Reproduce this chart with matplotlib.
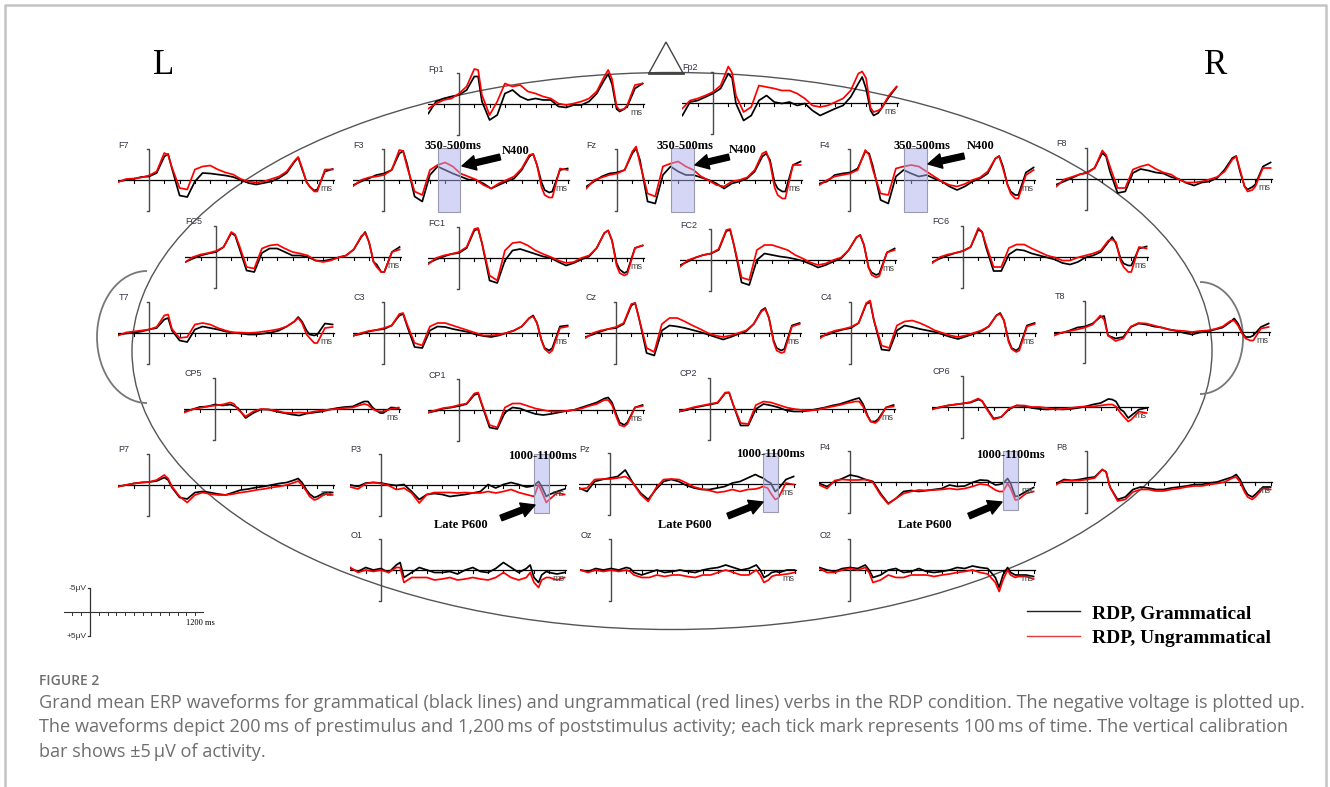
import matplotlib
matplotlib.use("Agg")
import matplotlib.pyplot as plt
from matplotlib.patches import Ellipse, Arc, Polygon, Rectangle
from matplotlib.lines import Line2D

# sample times (ms) shared by every waveform
TIMES = [-200, -150, -100, -50, 0, 50, 100, 125, 150, 200, 250, 300, 350, 400, 450, 500,
         550, 600, 650, 700, 750, 800, 850, 900, 950, 975, 1000, 1030, 1050, 1080, 1100, 1150, 1200]

# amplitudes in microvolts (negative plotted up); _G = grammatical, _U = ungrammatical
Fp1_G = [1.9, -0.5, -1.1, -1.5, -1.8, -2.8, -5.5, -5.5, -0.5, 3.2, 2.2, -2.1, -2.8, -1.5, -0.8, -1.1, -0.8,
         -0.8, 0.5, 0.7, 0.2, 0.2, -0.5, -2.1, -4.8, -6.0, -4.0, 1.0, 1.5, 1.0, 0.5, -3.1, -4.1]
Fp1_U = [0.9, -0.1, -0.8, -1.1, -2.1, -3.5, -7.0, -6.8, -1.8, 2.2, -0.5, -4.1, -3.5, -3.8, -2.5, -2.1, -1.5,
         -1.1, -0.1, 0.2, -0.1, -0.5, -1.1, -2.5, -5.5, -6.8, -5.0, 0.5, 1.2, 1.0, 0.2, -3.8, -4.1]
Fp2_G = [2.5, -0.2, -0.5, -1.2, -1.9, -2.9, -5.9, -5.0, 0.1, 3.5, 2.5, -0.5, -1.5, -0.2, 0.1, -0.2, 0.5,
         0.1, 1.5, 2.5, 1.8, 1.1, 0.5, -1.2, -3.9, -5.2, -2.9, 1.5, 2.5, 2.0, 1.1, -1.2, -3.2]
Fp2_U = [1.1, -0.5, -0.9, -1.5, -2.2, -3.5, -7.3, -6.0, -1.5, 1.8, 0.8, -3.5, -3.2, -2.9, -2.5, -2.5, -1.9,
         -0.9, 0.5, 0.8, 0.5, -0.2, -0.9, -2.5, -5.9, -6.3, -5.0, 1.0, 1.8, 1.5, 1.1, -1.5, -3.3]
F7_G = [0.3, 0.0, -0.2, -0.6, -0.7, -1.4, -4.7, -5.2, -2.3, 3.1, 3.4, 0.3, -1.4, -1.3, -1.1, -0.9, -0.6,
        0.0, 0.6, 0.9, 0.6, 0.3, -0.4, -1.4, -3.6, -4.5, -2.2, 0.4, 1.3, 2.1, 1.9, -1.7, -2.2]
F7_U = [0.4, -0.2, -0.3, -0.5, -0.9, -1.7, -5.4, -5.0, -2.5, 1.6, 1.9, -2.1, -2.7, -2.9, -2.1, -1.5, -1.1,
        -0.2, 0.3, 0.5, 0.3, -0.2, -0.7, -1.7, -3.8, -4.6, -2.5, 0.5, 1.3, 2.3, 2.3, -2.1, -2.1]
F3_G = [1.0, 0.3, -0.3, -1.0, -1.3, -2.0, -5.3, -5.8, -3.3, 3.3, 4.3, -1.0, -2.7, -2.0, -1.3, -0.7, -0.1,
        0.0, 0.7, 1.7, 1.0, 0.3, -0.3, -2.0, -4.7, -5.2, -3.0, 0.5, 2.0, 2.5, 2.3, -2.0, -2.3]
F3_U = [1.2, 0.0, -0.5, -0.7, -1.0, -2.0, -6.0, -5.8, -2.7, 2.3, 3.0, -2.0, -3.0, -3.5, -2.7, -1.3, -0.7,
        -0.1, 1.0, 1.7, 0.7, 0.0, -0.7, -2.3, -5.0, -5.2, -3.0, 1.5, 3.0, 3.5, 3.5, -2.3, -2.0]
Fz_G = [1.3, 0.3, -0.7, -1.3, -1.5, -2.0, -5.3, -6.3, -4.0, 4.3, 4.7, -1.0, -2.7, -1.7, -1.0, -1.0, -0.5,
        0.0, 0.7, 1.7, 0.7, 0.3, -0.3, -1.7, -4.7, -5.3, -4.0, 0.5, 1.7, 2.3, 2.3, -3.0, -3.7]
Fz_U = [1.7, 0.0, -0.5, -1.0, -1.3, -2.0, -5.7, -6.7, -3.3, 2.7, 3.3, -2.7, -3.3, -3.7, -2.7, -2.0, -0.7,
        0.1, 1.0, 1.3, 0.3, 0.0, -0.5, -2.0, -5.3, -5.7, -3.5, 1.5, 3.0, 3.7, 3.7, -3.0, -3.0]
F4_G = [0.7, 0.3, -1.0, -1.3, -1.5, -2.3, -5.7, -5.3, -2.7, 4.0, 4.7, -0.7, -2.0, -1.3, -0.7, -1.0, -0.3,
        0.3, 1.3, 2.0, 1.3, 0.3, -0.3, -1.3, -4.3, -4.8, -2.7, 1.0, 2.3, 3.0, 3.0, -1.5, -2.5]
F4_U = [1.0, 0.0, -0.7, -1.0, -1.3, -2.0, -6.0, -5.0, -2.0, 2.7, 3.0, -2.3, -2.7, -3.0, -2.7, -1.7, -0.7,
        0.3, 1.0, 1.3, 0.8, 0.0, -0.5, -1.7, -4.3, -4.7, -2.3, 1.0, 2.7, 3.7, 3.7, -1.0, -2.0]
F8_G = [1.1, 0.5, -0.2, -0.9, -1.3, -2.2, -5.2, -4.5, -1.5, 2.8, 2.5, -1.2, -2.0, -1.7, -1.3, -1.1, -0.4,
        0.0, 0.8, 1.3, 0.7, 0.5, -0.2, -1.9, -4.2, -4.6, -1.5, 1.5, 2.1, 1.6, 1.1, -2.5, -3.3]
F8_U = [1.5, 0.1, -0.4, -0.9, -1.2, -2.2, -5.7, -4.8, -2.5, 1.8, 1.8, -1.9, -2.5, -2.9, -2.0, -1.3, -0.9,
        0.1, 0.7, 0.7, 0.5, 0.1, -0.4, -1.5, -3.9, -4.5, -1.9, 1.5, 2.5, 2.2, 1.5, -2.2, -2.2]
FC5_G = [1.0, 0.3, -0.3, -0.7, -1.0, -2.0, -4.8, -4.3, -2.0, 2.7, 3.0, -0.8, -1.7, -1.7, -1.0, -0.3, -0.3,
         0.0, 0.7, 0.8, 0.5, 0.1, -0.3, -1.5, -4.0, -5.0, -3.0, 1.0, 1.5, 3.0, 3.0, -1.0, -2.0]
FC5_U = [1.0, 0.0, -0.5, -0.8, -1.2, -2.0, -5.0, -4.5, -2.5, 2.0, 2.3, -1.7, -2.3, -2.5, -1.7, -1.0, -0.7,
         -0.3, 0.7, 1.0, 0.7, 0.1, -0.3, -1.5, -4.2, -4.8, -3.0, 1.0, 2.0, 3.0, 3.0, -1.0, -1.5]
FC1_G = [1.0, 0.3, -0.3, -0.8, -1.0, -2.0, -5.5, -5.8, -3.0, 4.5, 5.0, 0.5, -1.5, -1.8, -1.3, -0.8, -0.3,
         0.0, 0.8, 1.5, 1.0, 0.3, -0.3, -2.0, -5.0, -5.5, -3.5, 1.0, 2.3, 3.0, 2.7, -2.0, -2.5]
FC1_U = [1.2, 0.0, -0.5, -0.8, -1.2, -2.2, -5.8, -6.0, -3.0, 3.5, 4.5, -1.5, -3.0, -3.2, -2.5, -1.5, -0.8,
         -0.2, 0.5, 1.0, 0.8, 0.0, -0.5, -2.0, -5.0, -5.5, -3.5, 1.5, 3.0, 3.5, 3.2, -2.0, -2.5]
FC2_G = [1.0, 0.3, -0.5, -1.0, -1.3, -2.0, -5.8, -6.0, -3.0, 4.5, 5.0, 0.0, -1.3, -1.0, -0.7, -0.5, -0.2,
         0.2, 0.8, 1.5, 1.0, 0.3, -0.3, -2.0, -4.5, -5.0, -3.0, 1.5, 2.5, 3.0, 2.7, -1.5, -2.3]
FC2_U = [1.3, 0.0, -0.5, -1.0, -1.3, -2.2, -6.0, -6.2, -3.0, 3.5, 4.0, -2.0, -3.0, -3.0, -2.5, -2.0, -1.0,
         -0.3, 0.5, 1.0, 0.7, 0.0, -0.5, -2.0, -4.5, -5.0, -3.0, 1.5, 3.0, 3.5, 3.2, -1.5, -2.0]
FC6_G = [1.0, 0.3, -0.3, -0.8, -1.2, -2.0, -5.5, -5.0, -2.0, 2.8, 2.8, -0.5, -1.5, -1.3, -0.7, -0.3, 0.1,
         0.5, 1.2, 1.5, 1.0, 0.1, -0.3, -1.0, -3.0, -4.0, -2.7, 0.3, 1.3, 1.7, 1.7, -1.7, -2.1]
FC6_U = [1.2, 0.0, -0.5, -0.8, -1.2, -2.0, -5.8, -5.0, -2.5, 2.0, 2.0, -1.8, -2.5, -2.5, -1.7, -1.0, -0.3,
         0.1, 0.7, 0.7, 0.1, -0.3, -0.7, -1.3, -3.3, -3.5, -3.0, 0.8, 2.0, 3.0, 3.0, -2.0, -1.7]
T7_G = [0.3, 0.1, -0.1, -0.3, -0.7, -1.0, -2.7, -3.0, -0.5, 1.5, 1.8, -0.7, -1.3, -1.0, -0.7, -0.3, -0.1,
        0.1, 0.3, 0.3, 0.1, -0.1, -0.5, -1.3, -2.3, -3.2, -2.3, -0.5, 0.3, 0.5, 0.3, -1.9, -1.7]
T7_U = [0.5, -0.1, -0.3, -0.5, -0.7, -1.2, -3.5, -3.7, -0.8, 1.0, 0.8, -1.7, -2.0, -1.7, -1.0, -0.5, -0.1,
        -0.1, 0.0, -0.1, -0.3, -0.5, -0.8, -1.3, -2.3, -3.0, -2.0, 0.3, 1.0, 2.0, 2.0, -1.0, -1.2]
C3_G = [0.5, 0.2, -0.3, -0.6, -0.8, -1.5, -3.5, -3.8, -1.5, 2.8, 3.0, -0.5, -1.3, -1.2, -0.8, -0.5, -0.2,
        0.3, 0.6, 0.8, 0.5, 0.0, -0.5, -1.3, -3.0, -3.5, -2.0, 1.5, 3.0, 3.5, 3.0, -1.3, -1.5]
C3_U = [0.6, 0.0, -0.4, -0.6, -1.0, -1.5, -3.8, -4.0, -1.8, 2.0, 2.5, -1.3, -2.0, -2.0, -1.5, -1.0, -0.5,
        0.0, 0.5, 0.5, 0.3, 0.0, -0.5, -1.3, -3.0, -3.3, -2.0, 1.5, 3.2, 4.0, 3.5, -1.0, -1.3]
Cz_G = [0.8, 0.3, -0.3, -0.8, -1.0, -1.8, -5.5, -6.0, -3.0, 4.0, 4.5, -0.5, -1.5, -1.3, -1.0, -0.6, -0.2,
        0.3, 0.8, 1.3, 0.8, 0.2, -0.3, -1.8, -4.5, -5.0, -3.0, 1.5, 3.0, 3.5, 3.2, -1.5, -2.0]
Cz_U = [1.0, 0.0, -0.5, -0.8, -1.2, -2.0, -5.8, -6.0, -3.0, 3.0, 3.8, -1.8, -3.0, -3.0, -2.3, -1.5, -0.8,
        0.0, 0.5, 0.8, 0.5, 0.0, -0.5, -1.8, -4.3, -4.8, -3.0, 1.8, 3.5, 4.0, 3.8, -1.3, -1.8]
C4_G = [0.7, 0.3, -0.3, -0.7, -1.0, -2.0, -5.8, -6.2, -2.5, 3.3, 3.5, -0.5, -1.5, -1.2, -0.8, -0.5, -0.2,
        0.3, 0.8, 1.2, 0.7, 0.2, -0.3, -1.3, -3.5, -4.0, -2.5, 1.5, 3.0, 3.5, 3.0, -1.5, -2.0]
C4_U = [1.0, 0.0, -0.5, -0.8, -1.2, -2.0, -6.0, -6.5, -2.5, 2.5, 3.0, -1.5, -2.3, -2.5, -2.0, -1.3, -0.5,
        0.0, 0.5, 0.8, 0.5, 0.0, -0.5, -1.3, -3.5, -3.8, -2.5, 1.8, 3.2, 3.8, 3.5, -1.3, -1.8]
T8_G = [0.3, 0.2, -0.3, -0.9, -1.1, -1.7, -3.0, -3.2, 0.7, 1.3, 1.0, -1.0, -1.7, -1.5, -1.1, -0.9, -0.5,
        -0.2, 0.2, 0.5, 0.1, -0.1, -0.5, -0.9, -2.0, -2.7, -1.7, 0.3, 1.0, 1.0, 0.7, -1.0, -1.7]
T8_U = [0.7, 0.1, -0.2, -0.5, -0.9, -1.5, -3.3, -2.5, 0.7, 1.8, 1.3, -1.1, -1.8, -1.7, -1.3, -0.9, -0.5,
        -0.3, -0.2, 0.0, -0.2, -0.3, -0.6, -1.1, -2.2, -2.3, -1.3, 0.5, 1.3, 1.7, 1.7, -0.7, -1.0]
CP5_G = [0.5, 0.1, -0.4, -0.5, -0.9, -0.7, -0.9, -0.6, -0.2, 1.8, 0.8, 0.1, 0.1, 0.5, 0.8, 1.1, 1.3,
         0.9, 0.7, 0.5, 0.1, -0.2, -0.4, -0.5, -1.2, -1.5, -1.5, -0.3, 0.2, 0.8, 0.8, -0.3, -0.2]
CP5_U = [0.7, 0.1, -0.2, -0.5, -0.7, -0.9, -1.3, -1.0, 0.1, 1.5, 0.5, 0.0, 0.1, 0.3, 0.7, 0.8, 0.7,
         0.8, 0.5, 0.3, 0.1, 0.0, -0.2, -0.3, -0.8, -1.0, -0.8, 0.0, 0.3, 0.5, 0.5, 0.0, -0.3]
CP1_G = [0.5, 0.2, -0.3, -0.5, -0.8, -1.2, -3.0, -3.3, -1.0, 3.5, 3.8, 0.5, -0.5, -0.3, 0.3, 0.8, 1.0,
         0.8, 0.5, 0.2, 0.0, -0.5, -1.0, -1.5, -2.3, -2.5, -1.5, 1.0, 2.5, 3.0, 2.5, -0.5, -1.0]
CP1_U = [0.5, 0.0, -0.4, -0.6, -1.0, -1.3, -3.3, -3.5, -1.2, 3.0, 3.5, -0.5, -1.3, -1.3, -0.8, -0.3, 0.0,
         0.3, 0.3, 0.2, 0.0, -0.3, -0.8, -1.2, -2.0, -2.0, -1.0, 1.5, 3.0, 3.3, 2.8, -0.5, -0.8]
CP2_G = [0.5, 0.2, -0.3, -0.6, -0.9, -1.2, -3.2, -3.3, -1.0, 3.3, 3.3, 0.0, -1.0, -0.7, -0.3, 0.3, 0.5,
         0.5, 0.3, 0.0, -0.3, -0.7, -1.0, -1.5, -2.0, -2.2, -1.0, 1.3, 2.5, 2.5, 2.0, -0.3, -0.8]
CP2_U = [0.5, 0.0, -0.4, -0.7, -1.0, -1.3, -3.3, -3.3, -1.0, 2.8, 3.0, -0.8, -1.5, -1.3, -0.8, -0.3, 0.0,
         0.2, 0.3, 0.2, -0.2, -0.5, -0.8, -1.2, -1.5, -1.5, -0.5, 1.5, 2.5, 2.8, 2.3, -0.3, -0.5]
CP6_G = [0.3, 0.1, -0.3, -0.5, -0.7, -0.9, -1.5, -1.2, 0.0, 2.3, 2.0, 0.5, -0.3, -0.2, 0.2, 0.4, 0.5,
         0.4, 0.5, 0.4, 0.2, -0.1, -0.5, -0.8, -1.6, -1.5, -1.1, 0.5, 0.9, 2.2, 1.7, 0.5, 0.2]
CP6_U = [0.5, 0.0, -0.3, -0.5, -0.7, -1.0, -1.7, -1.2, 0.2, 2.5, 2.0, 0.3, -0.3, -0.3, 0.0, 0.0, 0.2,
         0.5, 0.4, 0.2, 0.0, -0.1, -0.1, -0.3, -0.5, -0.5, -0.1, 1.2, 1.9, 2.9, 2.5, 0.9, 1.2]
P7_G = [0.3, 0.0, -0.3, -0.5, -0.6, -0.8, -1.5, -1.0, 0.5, 2.5, 2.8, 1.5, 1.3, 1.5, 1.8, 2.0, 1.5,
        1.0, 0.8, 0.5, 0.3, 0.0, -0.3, -0.5, -1.0, -1.3, -0.5, 1.0, 1.8, 2.5, 2.3, 1.5, 1.5]
P7_U = [0.3, 0.0, -0.3, -0.5, -0.6, -1.0, -2.0, -1.3, 0.3, 2.3, 3.5, 2.0, 1.5, 1.8, 2.0, 2.0, 1.8,
        1.5, 1.3, 1.0, 0.8, 0.5, 0.3, 0.0, -0.5, -0.8, 0.0, 1.3, 2.3, 3.0, 2.8, 1.8, 2.0]
P3_G = [0.0, 0.3, -0.4, -0.5, -0.4, -0.1, 0.1, 0.0, -0.1, 1.3, 2.9, 1.9, 1.7, 1.9, 2.3, 2.1, 1.9,
        1.6, 1.3, -0.1, 0.6, -0.1, -0.5, -0.1, 0.4, 0.3, 0.1, -0.7, 0.3, 2.3, 1.9, 1.3, 0.8]
P3_U = [0.4, 0.8, -0.3, -0.5, -0.3, 0.1, 0.9, 0.8, 0.6, 1.6, 3.6, 1.9, 1.5, 1.5, 1.5, 1.6, 1.5,
        1.6, 1.6, 1.3, 1.6, 1.3, 0.9, 1.5, 1.9, 2.1, 2.3, -0.1, 1.3, 3.5, 2.9, 1.6, 1.9]
Pz_G = [0.8, 1.5, -0.5, -0.9, -1.2, -1.5, -2.8, -1.5, -0.2, 1.8, 3.1, 1.1, -0.5, -0.9, -0.5, 0.3, 0.8,
        1.1, 1.1, 0.8, 0.5, -0.2, -0.5, -1.2, -1.9, -1.5, -1.2, -0.5, -0.2, 1.5, 1.0, -0.9, -1.5]
Pz_U = [1.0, 0.8, -0.9, -1.0, -1.0, -1.2, -1.5, -1.0, -0.2, 2.1, 3.5, 0.8, -0.9, -1.0, -0.9, -0.2, 0.6,
        1.0, 1.3, 1.7, 1.5, 1.1, 1.5, 1.1, 1.0, 0.8, 0.5, 0.8, 1.8, 3.1, 2.8, -0.2, 0.1]
P4_G = [0.3, 0.9, -0.1, -0.7, -1.4, -1.1, -0.5, -0.3, -0.1, 2.3, 4.3, 3.3, 1.9, 1.7, 1.9, 1.7, 1.5,
        1.3, 0.6, 0.9, 0.8, 0.1, -0.4, -0.3, 0.6, 0.5, 0.3, -0.7, 0.3, 2.9, 2.8, 1.9, 1.1]
P4_U = [0.6, 1.3, -0.3, -0.5, -0.4, -0.4, -0.5, -0.3, 0.1, 2.6, 4.4, 3.3, 2.3, 1.9, 1.6, 1.7, 1.6,
        1.5, 1.3, 1.5, 1.3, 0.9, 0.4, 0.6, 1.6, 1.9, 1.9, 0.3, 1.3, 3.6, 3.5, 2.3, 1.9]
P8_G = [0.3, -0.5, -0.3, -0.5, -0.8, -1.0, -2.5, -2.0, 1.0, 3.5, 3.0, 1.5, 1.0, 1.2, 1.5, 1.5, 1.2,
        1.0, 0.8, 0.5, 0.5, 0.2, 0.0, -0.5, -1.0, -1.5, -0.5, 1.5, 2.5, 3.0, 2.5, 1.0, 1.0]
P8_U = [0.5, -0.3, -0.3, -0.3, -0.5, -0.8, -2.5, -2.0, 1.0, 3.8, 3.5, 2.0, 1.5, 1.5, 1.8, 1.8, 1.5,
        1.3, 1.0, 0.8, 0.8, 0.5, 0.3, 0.0, -0.8, -1.0, 0.0, 2.0, 3.0, 3.5, 3.0, 1.3, 1.5]
O1_G = [-0.3, 0.3, -0.5, 0.0, -0.3, 0.5, -1.0, -1.5, 1.5, 0.5, -0.5, 0.0, 0.5, 0.5, 0.3, 0.8, 0.0,
        -0.5, 0.3, 0.5, -0.3, -1.5, -0.5, 0.5, -0.3, -1.0, 1.5, 2.5, 1.0, 0.3, 0.5, 0.8, 0.5]
O1_U = [-0.5, 0.5, 0.0, 0.3, 0.0, 0.5, -0.5, -0.5, 2.5, 1.5, 1.5, 1.5, 2.0, 1.8, 1.5, 2.0, 1.8,
        1.5, 1.8, 2.0, 1.5, 0.5, 1.5, 2.0, 1.5, 0.5, 2.5, 3.5, 2.0, 1.5, 1.5, 2.0, 1.5]
Oz_G = [0.0, 0.3, -0.3, 0.0, -0.3, 0.0, -0.5, -0.3, 0.5, 1.0, 0.5, 0.0, 0.5, 0.3, 0.0, 0.3, 0.5,
        0.0, -0.3, -0.5, -1.0, -0.5, 0.0, -0.3, -1.0, 0.0, 1.5, 1.0, 0.5, 0.3, 0.5, 0.0, 0.0]
Oz_U = [0.0, 0.5, 0.0, 0.3, 0.0, 0.3, 0.0, 0.3, 1.0, 1.5, 1.5, 1.0, 1.3, 1.0, 1.0, 1.3, 1.5,
        1.0, 1.0, 0.5, 0.0, 0.5, 1.0, 1.0, 0.0, 1.0, 2.5, 2.0, 1.3, 1.0, 1.0, 0.8, 0.5]
O2_G = [-0.5, 0.0, 0.3, -0.3, -0.5, -0.3, -1.0, 0.0, 1.5, 1.0, 0.0, -0.3, 0.5, 0.3, -0.3, 0.3, 0.5,
        0.3, 0.0, -0.5, -0.3, -0.8, -0.5, -0.3, 1.5, 3.5, 1.0, -0.5, 0.5, 1.0, 1.0, 1.0, 1.3]
O2_U = [-0.3, 0.5, 0.5, 0.0, -0.3, 0.0, -0.5, 0.5, 2.5, 2.0, 1.0, 1.5, 1.5, 1.0, 1.0, 1.0, 1.3,
        1.0, 0.8, 0.5, 0.3, 0.0, 0.5, 0.8, 2.5, 4.3, 2.0, 0.0, 1.0, 1.5, 1.3, 1.3, 1.8]

ERP = {
    'Fp1': (Fp1_G, Fp1_U), 'Fp2': (Fp2_G, Fp2_U),
    'F7': (F7_G, F7_U), 'F3': (F3_G, F3_U), 'Fz': (Fz_G, Fz_U), 'F4': (F4_G, F4_U), 'F8': (F8_G, F8_U),
    'FC5': (FC5_G, FC5_U), 'FC1': (FC1_G, FC1_U), 'FC2': (FC2_G, FC2_U), 'FC6': (FC6_G, FC6_U),
    'T7': (T7_G, T7_U), 'C3': (C3_G, C3_U), 'Cz': (Cz_G, Cz_U), 'C4': (C4_G, C4_U), 'T8': (T8_G, T8_U),
    'CP5': (CP5_G, CP5_U), 'CP1': (CP1_G, CP1_U), 'CP2': (CP2_G, CP2_U), 'CP6': (CP6_G, CP6_U),
    'P7': (P7_G, P7_U), 'P3': (P3_G, P3_U), 'Pz': (Pz_G, Pz_U), 'P4': (P4_G, P4_U), 'P8': (P8_G, P8_U),
    'O1': (O1_G, O1_U), 'Oz': (Oz_G, Oz_U), 'O2': (O2_G, O2_U),
}

N400_WIN = (350, 500)
P600_WIN = (1000, 1100)
N400_SITES = ['F3', 'Fz', 'F4']
P600_SITES = ['P3', 'Pz', 'P4']
LEGEND_LABELS = ['RDP, Grammatical', 'RDP, Ungrammatical']
CAL_UV = 5
CAL_MS = 1200

# layout: pixel position of each panel's 0 ms bar and baseline
POS = {
    'Fp1': (459, 104), 'Fp2': (713, 103),
    'F7': (149, 180), 'F3': (384, 180), 'Fz': (617, 180), 'F4': (850, 180), 'F8': (1087, 179),
    'FC5': (216, 257), 'FC1': (459, 258), 'FC2': (711, 260), 'FC6': (963, 257),
    'T7': (149, 333), 'C3': (384, 333), 'Cz': (616, 333), 'C4': (851, 333), 'T8': (1085, 332),
    'CP5': (215, 409), 'CP1': (459, 410), 'CP2': (710, 409), 'CP6': (963, 407),
    'P7': (149, 485), 'P3': (381, 485), 'Pz': (610, 484), 'P4': (850, 482), 'P8': (1087, 482),
    'O1': (381, 570), 'Oz': (611, 570), 'O2': (850, 570),
}

for name, (g, u) in ERP.items():
    if len(g) != len(TIMES) or len(u) != len(TIMES):
        raise ValueError(f"{name}: {len(g)} / {len(u)} values")

W, H = 1330, 787
PX_MS = 0.153
PX_UV = 5.0
XLIM = (-200, 1240)
YL = 8.0
BAR = 6.2
SANS = ['Liberation Sans', 'DejaVu Sans']
SERIF = ['Liberation Serif', 'DejaVu Serif']

fig = plt.figure(figsize=(W / 100, H / 100), dpi=100)
fig.patch.set_facecolor('white')

# background: head outline, frame, caption
bg = fig.add_axes([0, 0, 1, 1], zorder=0)
bg.set_xlim(0, W)
bg.set_ylim(H, 0)
bg.axis('off')
head_col = '#555555'
bg.add_patch(Ellipse((672, 351), 1080, 557, fill=False, ec=head_col, lw=1.0))
bg.add_patch(Arc((147, 337), 100, 132, theta1=90, theta2=270, ec='#777777', lw=1.3))
bg.add_patch(Arc((1200, 338), 86, 112, theta1=-90, theta2=90, ec='#777777', lw=1.3))
bg.add_patch(Polygon([(649, 73), (683, 73), (666, 42)], closed=True, fill=False, ec='#444444', lw=1.0))
bg.plot([649, 683], [73, 73], color='#444444', lw=2)
bg.plot([5, 5, 1326, 1326], [787, 5, 5, 787], color='#c4c4c4', lw=1.8)
bg.text(164, 65, 'L', family=SERIF, fontsize=25, ha='center', va='center')
bg.text(1216, 65, 'R', family=SERIF, fontsize=25, ha='center', va='center')

cap_col = '#6e6e6e'
CAP = ['Open Sans', 'DejaVu Sans']
bg.text(39, 685, 'FIGURE 2', family=CAP, fontsize=10, weight='semibold', color=cap_col, va='baseline')
caption = [
    'Grand mean ERP waveforms for grammatical (black lines) and ungrammatical (red lines) verbs in the RDP condition. The negative voltage is plotted up.',
    'The waveforms depict 200\u2009ms of prestimulus and 1,200\u2009ms of poststimulus activity; each tick mark represents 100\u2009ms of time. The vertical calibration',
    'bar shows \u00b15\u2009\u03bcV of activity.',
]
for i, line in enumerate(caption):
    bg.text(39, 708 + 24.5 * i, line, family=CAP, fontsize=13.1, color=cap_col, va='baseline')


def panel(vx, by, z=2):
    left = vx + XLIM[0] * PX_MS
    width = (XLIM[1] - XLIM[0]) * PX_MS
    top = by - YL * PX_UV
    ax = fig.add_axes([left / W, 1 - (top + 2 * YL * PX_UV) / H, width / W, 2 * YL * PX_UV / H], zorder=z)
    ax.set_xlim(*XLIM)
    ax.set_ylim(YL, -YL)  # negative up
    ax.axis('off')
    return ax


for name, (g, u) in ERP.items():
    ax = panel(*POS[name])
    ax.plot([-200, 1210], [0, 0], color='black', lw=0.9)
    for t in range(-100, 1201, 100):
        ax.plot([t, t], [0, 0.55], color='black', lw=0.8)
    ax.plot([-14, 0, 0, -14], [-BAR, -BAR, BAR, BAR], color='#4a4a4a', lw=1.0)
    ax.plot(TIMES, g, color='black', lw=1.25)
    ax.plot(TIMES, u, color='#ff0000', lw=1.25)
    ax.text(-200, -7.0, name, family=SANS, fontsize=6.5, color='#333344', ha='left', va='center')
    ax.text(1200, 1.7, 'ms', family=SANS, fontsize=6.5, color='#444444', ha='right', va='center')
    if name in N400_SITES:
        ax.add_patch(Rectangle((N400_WIN[0], -BAR - 0.2), N400_WIN[1] - N400_WIN[0], 2 * BAR + 0.4,
                               fc=(0.68, 0.68, 0.93, 0.5), ec='#9a9ab0', lw=0.8, zorder=5))
    if name in P600_SITES:
        ax.add_patch(Rectangle((P600_WIN[0], -BAR), P600_WIN[1] - P600_WIN[0], 2 * BAR - 0.6,
                               fc=(0.68, 0.68, 0.93, 0.5), ec='#9a9ab0', lw=0.8, zorder=5))

# calibration bar
cal_left, cal_right = -300, 1300
cal_px = 0.0877
cal = fig.add_axes([(90 + cal_left * cal_px) / W, 1 - (612 + 30) / H, (cal_right - cal_left) * cal_px / W, 60 / H], zorder=2)
cal.set_xlim(cal_left, cal_right)
cal.set_ylim(6.25, -6.25)
cal.axis('off')
cal.plot([cal_left, cal_right], [0, 0], color='#333333', lw=0.8)
for t in range(-200, cal_right + 1, 100):
    cal.plot([t, t], [0, 0.6], color='#333333', lw=0.7)
cal.plot([-25, 0, 0, -25], [-CAL_UV, -CAL_UV, CAL_UV, CAL_UV], color='#333333', lw=0.9)
cal.text(-35, -CAL_UV, f'-{CAL_UV}\u03bcV', family=SANS, fontsize=6, ha='right', va='center', color='#333333')
cal.text(-35, CAL_UV, f'+{CAL_UV}\u03bcV', family=SANS, fontsize=6, ha='right', va='center', color='#333333')
cal.text(CAL_MS + 60, 2.2, f'{CAL_MS} ms', family=SERIF, fontsize=6, ha='center', va='center')

# overlay: annotations and legend
top = fig.add_axes([0, 0, 1, 1], zorder=10)
top.set_xlim(0, W)
top.set_ylim(H, 0)
top.axis('off')
arrow = dict(arrowstyle='simple,head_length=0.7,head_width=0.75,tail_width=0.3', color='black',
             mutation_scale=14, shrinkA=0, shrinkB=0)
ann = dict(family=SERIF, fontsize=9, weight='bold', ha='center', va='center')
for tx, nx, ny, tail, head in [(453, 516, 151, (500, 157), (462, 166)),
                               (685, 743, 150, (729, 157), (695, 165)),
                               (922, 981, 146, (964, 156), (928, 164))]:
    top.text(tx, 146, f'{N400_WIN[0]}-{N400_WIN[1]}ms', **ann)
    top.text(nx, ny, 'N400', **ann)
    top.annotate('', xy=head, xytext=tail, arrowprops=arrow)
for tx, ty, lx, tail, head in [(542, 456, 461, (501, 518), (535, 505)),
                               (770, 454, 685, (728, 516), (763, 502)),
                               (1010, 455, 925, (969, 516), (1002, 502))]:
    top.text(tx, ty, f'{P600_WIN[0]}-{P600_WIN[1]}ms', **ann)
    top.text(lx, 525, 'Late P600', **ann)
    top.annotate('', xy=head, xytext=tail, arrowprops=arrow)

handles = [Line2D([], [], color='#222222', lw=1.0), Line2D([], [], color='#e03a3a', lw=1.0)]
top.legend(handles, LEGEND_LABELS, loc='center left', bbox_to_anchor=(1027, 625.5),
           bbox_transform=top.transData, frameon=False,
           prop=dict(family=SERIF, weight='bold', size=14), handlelength=2.75,
           handletextpad=0.6, labelspacing=0.35, borderpad=0, borderaxespad=0)

fig.savefig('out.png', dpi=100)
